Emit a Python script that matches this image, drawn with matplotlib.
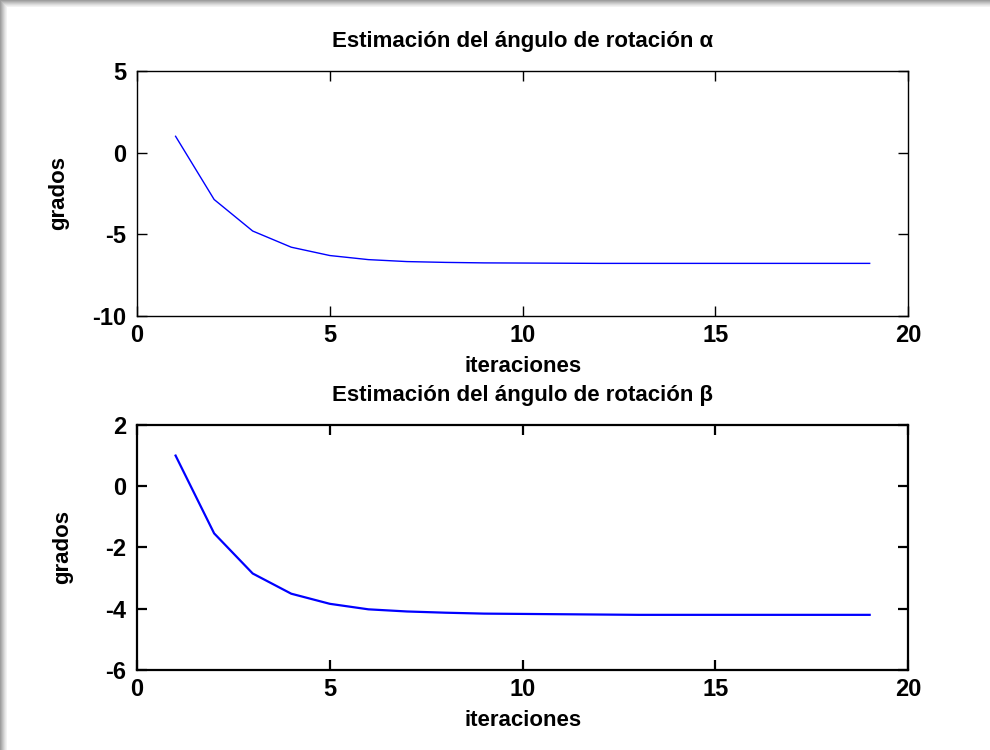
import matplotlib
matplotlib.use("Agg")
import matplotlib.pyplot as plt
from matplotlib.patches import Rectangle

plt.rcParams['font.family'] = ['Liberation Sans', 'DejaVu Sans']

iters = list(range(1, 20))
alpha_deg = [1.0, -2.87, -4.80, -5.79, -6.30, -6.55, -6.67, -6.72, -6.75, -6.76,
             -6.77, -6.78, -6.78, -6.78, -6.78, -6.78, -6.78, -6.78, -6.78]
beta_deg = [1.0, -1.54, -2.85, -3.51, -3.84, -4.02, -4.09, -4.13, -4.16, -4.17,
            -4.18, -4.19, -4.20, -4.20, -4.20, -4.20, -4.20, -4.20, -4.20]

titles = ["Estimación del ángulo de rotación α", "Estimación del ángulo de rotación β"]
xticks = [0, 5, 10, 15, 20]
yticks_a = [-10, -5, 0, 5]
yticks_b = [-6, -4, -2, 0, 2]

fig = plt.figure(figsize=(9.9, 7.5), dpi=100)
fig.patch.set_facecolor('white')

# shadow frame on top and left edges
W, H = 990, 750
for i, g in enumerate([0.62, 0.68, 0.74, 0.80, 0.86, 0.91, 0.95]):
    fig.add_artist(Rectangle((i / W, 0), 1 / W, 1 - i / H, transform=fig.transFigure,
                             facecolor=str(g), edgecolor='none'))
    fig.add_artist(Rectangle((i / W, 1 - (i + 1) / H), 1 - i / W, 1 / H,
                             transform=fig.transFigure, facecolor=str(g), edgecolor='none'))

ax1 = fig.add_axes([0.1384, 0.5787, 0.779, 0.3267])
ax2 = fig.add_axes([0.1384, 0.1067, 0.779, 0.3267])

specs = [(ax1, alpha_deg, yticks_a, 1.0, 1.0, -0.088), (ax2, beta_deg, yticks_b, 1.6, 1.6, -0.083)]
for k, (ax, data, yt, lw, sw, ylx) in enumerate(specs):
    ax.plot(iters, data, color='#0000ff', lw=lw)
    ax.set_xlim(0, 20)
    ax.set_ylim(yt[0], yt[-1])
    ax.set_xticks(xticks)
    ax.set_yticks(yt)
    ax.set_xticklabels([str(v) for v in xticks], fontsize=17, fontweight='bold')
    ax.set_yticklabels([str(v) for v in yt], fontsize=17, fontweight='bold')
    ax.tick_params(direction='in', length=7, width=sw, top=True, right=True)
    ax.tick_params(axis='x', pad=6)
    ax.tick_params(axis='y', pad=8)
    for s in ax.spines.values():
        s.set_linewidth(sw)
    ax.set_title(titles[k], fontsize=16, fontweight='bold', pad=17)
    ax.set_xlabel('iteraciones', fontsize=16, fontweight='bold', labelpad=6)
    ax.set_ylabel('grados', fontsize=16, fontweight='bold')
    ax.yaxis.set_label_coords(ylx, 0.5)

fig.savefig('out.png', dpi=100)
